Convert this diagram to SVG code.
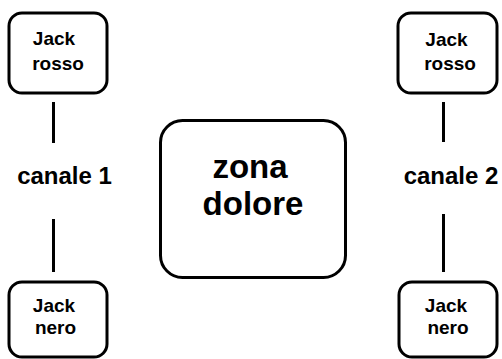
<svg xmlns="http://www.w3.org/2000/svg" width="502" height="359" viewBox="0 0 502 359">
<style>
.box{fill:#fff;stroke:#000;stroke-width:3}
.t{font-family:"Liberation Sans",Arial,sans-serif;font-weight:bold;fill:#000;text-anchor:middle}
.s{font-size:19px}
.m{font-size:24px}
.b{font-size:33px}
.ln{stroke:#000;stroke-width:3;fill:none}
</style>
<rect width="502" height="359" fill="#fff"/>
<g id="connectors">
<line class="ln" x1="53.5" y1="102" x2="53.5" y2="143"/>
<line class="ln" x1="53.5" y1="219" x2="53.5" y2="272"/>
<line class="ln" x1="443.5" y1="102" x2="443.5" y2="142"/>
<line class="ln" x1="443.5" y1="214" x2="443.5" y2="272"/>
</g>
<g id="jack-rosso-1">
<rect class="box" x="9" y="13" width="98" height="80" rx="13"/>
<text class="t s" x="54" y="45">Jack</text>
<text class="t s" x="58" y="70">rosso</text>
</g>
<g id="jack-rosso-2">
<rect class="box" x="398" y="13" width="99" height="80" rx="13"/>
<text class="t s" x="446.5" y="46">Jack</text>
<text class="t s" x="450" y="70">rosso</text>
</g>
<g id="canale-1">
<text class="t m" x="64.5" y="184">canale 1</text>
</g>
<g id="canale-2">
<text class="t m" x="451" y="184">canale 2</text>
</g>
<g id="zona-dolore">
<rect class="box" x="160.5" y="120.5" width="185" height="157" rx="22"/>
<text class="t b" x="250" y="178">zona</text>
<text class="t b" x="253" y="215">dolore</text>
</g>
<g id="jack-nero-1">
<rect class="box" x="9" y="282" width="98" height="75" rx="13"/>
<text class="t s" x="54" y="312">Jack</text>
<text class="t s" x="55.5" y="334">nero</text>
</g>
<g id="jack-nero-2">
<rect class="box" x="399" y="282" width="98" height="75" rx="13"/>
<text class="t s" x="446" y="312">Jack</text>
<text class="t s" x="448" y="334">nero</text>
</g>
</svg>
